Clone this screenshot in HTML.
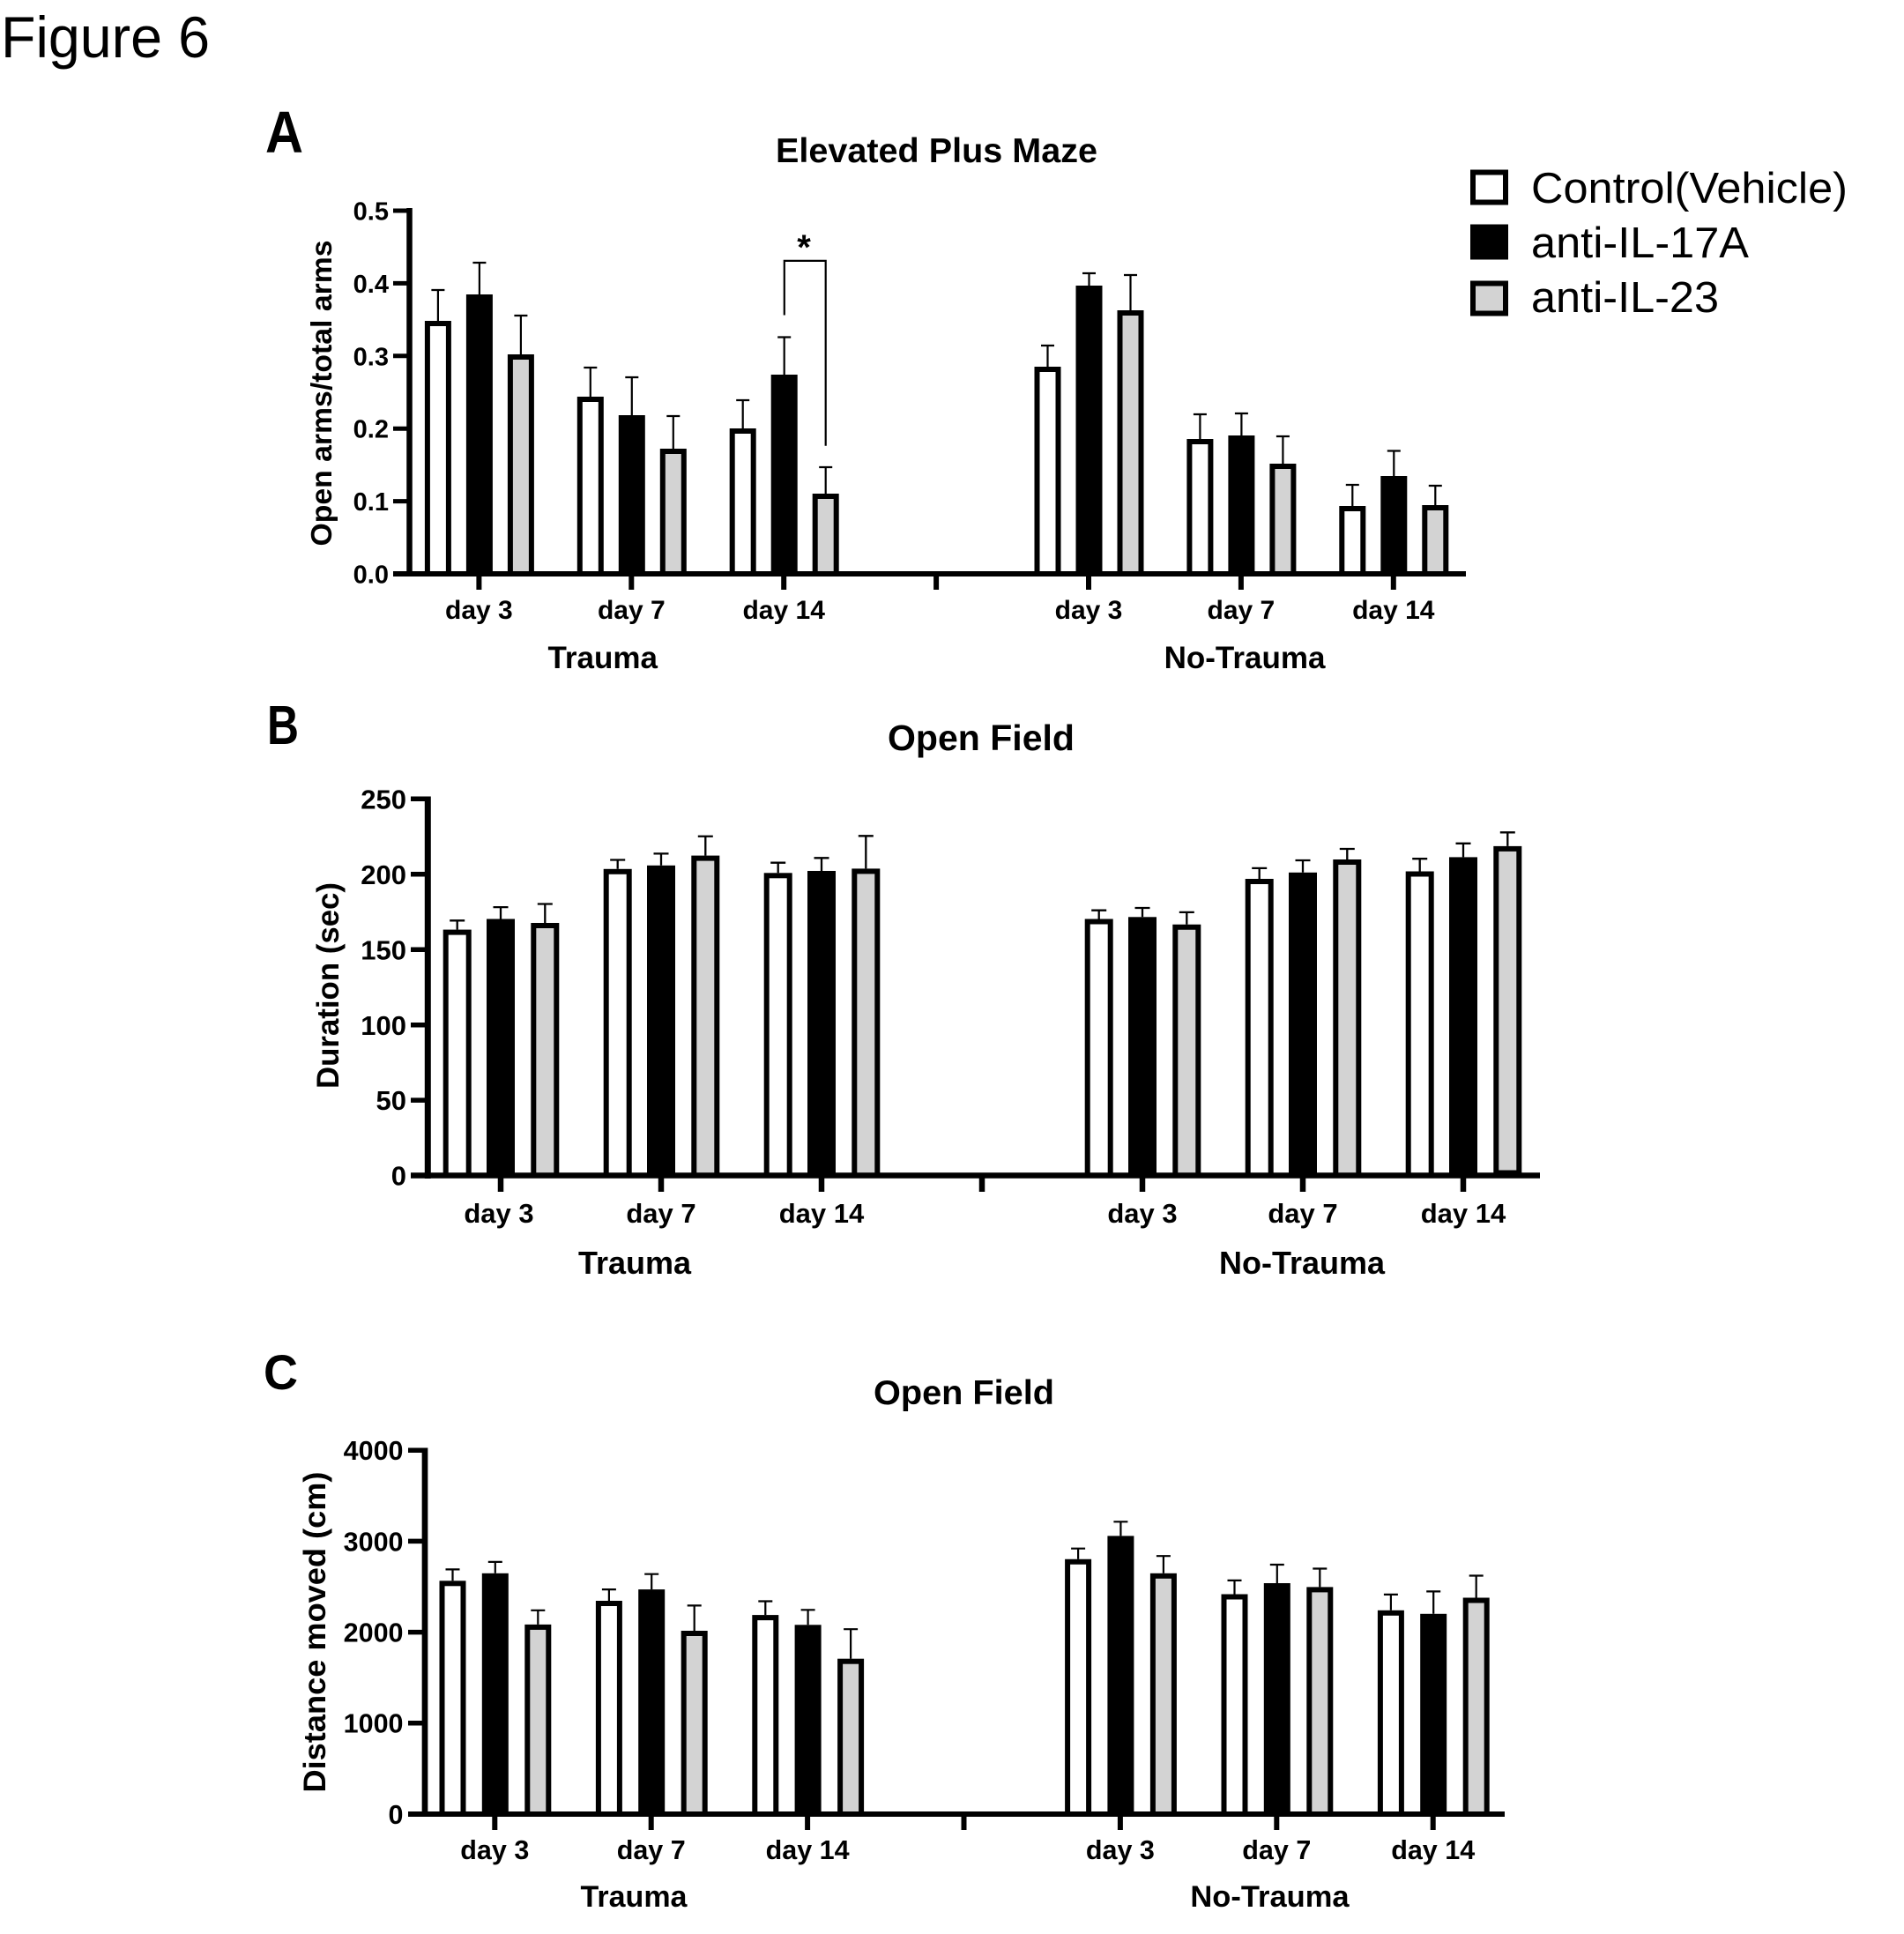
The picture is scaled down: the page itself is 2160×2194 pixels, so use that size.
<!DOCTYPE html>
<html>
<head>
<meta charset="utf-8">
<style>
html,body{margin:0;padding:0;background:#fff;}
svg{display:block;}
text{font-family:"Liberation Sans",Arial,sans-serif;fill:#000;}
.b{font-weight:bold;}
</style>
</head>
<body>
<svg width="2160" height="2194" viewBox="0 0 2160 2194" xmlns="http://www.w3.org/2000/svg">
<rect x="0" y="0" width="2160" height="2194" fill="#fff"/>

<!-- Figure title -->
<text x="1" y="65" font-size="66" textLength="237" lengthAdjust="spacingAndGlyphs">Figure 6</text>

<!-- ================= PANEL A ================= -->
<text class="b" x="301" y="173" font-size="67" textLength="43" lengthAdjust="spacingAndGlyphs">A</text>
<text class="b" x="880" y="184" font-size="39" textLength="365" lengthAdjust="spacingAndGlyphs">Elevated Plus Maze</text>

<!-- Legend -->
<rect x="1671" y="195.5" width="37" height="34" fill="#fff" stroke="#000" stroke-width="6"/>
<rect x="1671" y="257.5" width="37" height="34" fill="#000" stroke="#000" stroke-width="6"/>
<rect x="1671" y="321.5" width="37" height="34" fill="#d3d3d3" stroke="#000" stroke-width="6"/>
<text x="1737" y="230" font-size="49" textLength="359" lengthAdjust="spacingAndGlyphs">Control(Vehicle)</text>
<text x="1737" y="292" font-size="49" textLength="247" lengthAdjust="spacingAndGlyphs">anti-IL-17A</text>
<text x="1737" y="354" font-size="49" textLength="213" lengthAdjust="spacingAndGlyphs">anti-IL-23</text>

<!-- Y label -->
<text class="b" transform="translate(376,446) rotate(-90)" text-anchor="middle" font-size="33" textLength="347" lengthAdjust="spacingAndGlyphs">Open arms/total arms</text>

<!-- Y tick labels -->
<g font-size="29" text-anchor="end">
<text x="441" y="249.5" class="b">0.5</text>
<text x="441" y="331.9" class="b">0.4</text>
<text x="441" y="414.3" class="b">0.3</text>
<text x="441" y="496.7" class="b">0.2</text>
<text x="441" y="579.1" class="b">0.1</text>
<text x="441" y="661.5" class="b">0.0</text>
</g>

<!-- bars A -->
<g stroke="#000" stroke-width="6">
<rect x="484.9" y="367" width="24" height="284" fill="#fff"/>
<rect x="531.9" y="337" width="24" height="314" fill="#000"/>
<rect x="578.9" y="405" width="24" height="246" fill="#d3d3d3"/>
<rect x="657.8" y="453" width="24" height="198" fill="#fff"/>
<rect x="704.8" y="474" width="24" height="177" fill="#000"/>
<rect x="751.8" y="512" width="24" height="139" fill="#d3d3d3"/>
<rect x="830.7" y="489" width="24" height="162" fill="#fff"/>
<rect x="877.7" y="428" width="24" height="223" fill="#000"/>
<rect x="924.7" y="563" width="24" height="88" fill="#d3d3d3"/>
<rect x="1176.5" y="419" width="24" height="232" fill="#fff"/>
<rect x="1223.5" y="327" width="24" height="324" fill="#000"/>
<rect x="1270.5" y="355" width="24" height="296" fill="#d3d3d3"/>
<rect x="1349.4" y="501" width="24" height="150" fill="#fff"/>
<rect x="1396.4" y="497" width="24" height="154" fill="#000"/>
<rect x="1443.4" y="529" width="24" height="122" fill="#d3d3d3"/>
<rect x="1522.3" y="577" width="24" height="74" fill="#fff"/>
<rect x="1569.3" y="543" width="24" height="108" fill="#000"/>
<rect x="1616.3" y="576" width="24" height="75" fill="#d3d3d3"/>
</g>
<path fill="none" stroke="#000" stroke-width="2.2" d="
M496.9 364V329M489.4 329H504.4
M543.9 334V298M536.4 298H551.4
M590.9 402V358M583.4 358H598.4
M669.8 450V417M662.3 417H677.3
M716.8 471V428M709.3 428H724.3
M763.8 509V472M756.3 472H771.3
M842.7 486V454M835.2 454H850.2
M889.7 425V382.5M882.2 382.5H897.2
M936.7 560V530M929.2 530H944.2
M1188.5 416V392M1181 392H1196
M1235.5 324V310M1228 310H1243
M1282.5 352V312M1275 312H1290
M1361.4 498V470M1353.9 470H1368.9
M1408.4 494V469M1400.9 469H1415.9
M1455.4 526V495M1447.9 495H1462.9
M1534.3 574V550M1526.8 550H1541.8
M1581.3 540V511.5M1573.8 511.5H1588.8
M1628.3 573V551M1620.8 551H1635.8"/>

<!-- significance bracket -->
<path fill="none" stroke="#000" stroke-width="2.2" d="M889.8 357.5V295.9H936.7V505.7"/>
<text class="b" x="912" y="294" font-size="40" text-anchor="middle">*</text>

<!-- axes A -->
<g stroke="#000">
<line x1="464.5" y1="236" x2="464.5" y2="654" stroke-width="6.5"/>
<line x1="446" y1="651" x2="1663" y2="651" stroke-width="6"/>
<g stroke-width="5">
<line x1="446" y1="239" x2="464" y2="239"/>
<line x1="446" y1="321.4" x2="464" y2="321.4"/>
<line x1="446" y1="403.8" x2="464" y2="403.8"/>
<line x1="446" y1="486.2" x2="464" y2="486.2"/>
<line x1="446" y1="568.6" x2="464" y2="568.6"/>
</g>
<g stroke-width="6">
<line x1="543.4" y1="651" x2="543.4" y2="669"/>
<line x1="716.3" y1="651" x2="716.3" y2="669"/>
<line x1="889.2" y1="651" x2="889.2" y2="669"/>
<line x1="1062.1" y1="651" x2="1062.1" y2="669"/>
<line x1="1235" y1="651" x2="1235" y2="669"/>
<line x1="1407.9" y1="651" x2="1407.9" y2="669"/>
<line x1="1580.8" y1="651" x2="1580.8" y2="669"/>
</g>
</g>
<g font-size="30" text-anchor="middle">
<text class="b" x="543.4" y="702">day 3</text>
<text class="b" x="716.3" y="702">day 7</text>
<text class="b" x="889.2" y="702">day 14</text>
<text class="b" x="1235" y="702">day 3</text>
<text class="b" x="1407.9" y="702">day 7</text>
<text class="b" x="1580.8" y="702">day 14</text>
</g>
<text class="b" x="683.7" y="758" font-size="35" text-anchor="middle">Trauma</text>
<text class="b" x="1412" y="758" font-size="35" text-anchor="middle">No-Trauma</text>

<!-- ================= PANEL B ================= -->
<text class="b" x="303" y="844" font-size="62" textLength="36" lengthAdjust="spacingAndGlyphs">B</text>
<text class="b" x="1007" y="851" font-size="41" textLength="212" lengthAdjust="spacingAndGlyphs">Open Field</text>
<text class="b" transform="translate(384,1118) rotate(-90)" text-anchor="middle" font-size="35" textLength="234" lengthAdjust="spacingAndGlyphs">Duration (sec)</text>

<g font-size="31" text-anchor="end">
<text class="b" x="461" y="917.4">250</text>
<text class="b" x="461" y="1002.9">200</text>
<text class="b" x="461" y="1088.3">150</text>
<text class="b" x="461" y="1173.8">100</text>
<text class="b" x="461" y="1259.2">50</text>
<text class="b" x="461" y="1344.7">0</text>
</g>

<g stroke="#000" stroke-width="6">
<rect x="505.7" y="1057.6" width="26" height="275.9" fill="#fff"/>
<rect x="555" y="1045.5" width="26" height="288" fill="#000"/>
<rect x="605.3" y="1050" width="26" height="283.5" fill="#d3d3d3"/>
<rect x="687.7" y="988.8" width="26" height="344.7" fill="#fff"/>
<rect x="737" y="984.8" width="26" height="348.7" fill="#000"/>
<rect x="787.3" y="973.6" width="26" height="359.9" fill="#d3d3d3"/>
<rect x="869.7" y="993.3" width="26" height="340.2" fill="#fff"/>
<rect x="919" y="991" width="26" height="342.5" fill="#000"/>
<rect x="969.3" y="988.4" width="26" height="345.1" fill="#d3d3d3"/>
<rect x="1233.7" y="1045.5" width="26" height="288" fill="#fff"/>
<rect x="1283" y="1043.3" width="26" height="290.2" fill="#000"/>
<rect x="1333.3" y="1051.75" width="26" height="281.75" fill="#d3d3d3"/>
<rect x="1415.7" y="1000" width="26" height="333.5" fill="#fff"/>
<rect x="1465" y="992.8" width="26" height="340.7" fill="#000"/>
<rect x="1515.3" y="978" width="26" height="355.5" fill="#d3d3d3"/>
<rect x="1597.7" y="991.5" width="26" height="342" fill="#fff"/>
<rect x="1647" y="975.4" width="26" height="355.1" fill="#000"/>
<rect x="1697.3" y="962.9" width="26" height="367.6" fill="#d3d3d3"/>
</g>
<path fill="none" stroke="#000" stroke-width="2.3" d="
M518.7 1054.6V1044.3M510.2 1044.3H527.2
M568 1042.5V1029.1M559.5 1029.1H576.5
M618.3 1047V1025.5M609.8 1025.5H626.8
M700.7 985.8V975.5M692.2 975.5H709.2
M750 981.8V968.4M741.5 968.4H758.5
M800.3 970.6V948.75M791.8 948.75H808.8
M882.7 990.3V978.7M874.2 978.7H891.2
M932 988V973.3M923.5 973.3H940.5
M982.3 985.4V948.3M973.8 948.3H990.8
M1246.7 1042.5V1032.7M1238.2 1032.7H1255.2
M1296 1040.3V1030M1287.5 1030H1304.5
M1346.3 1048.75V1034.9M1337.8 1034.9H1354.8
M1428.7 997V984.9M1420.2 984.9H1437.2
M1478 989.8V976M1469.5 976H1486.5
M1528.3 975V963M1519.8 963H1536.8
M1610.7 988.5V974.2M1602.2 974.2H1619.2
M1660 972.4V956.8M1651.5 956.8H1668.5
M1710.3 959.9V944.3M1701.8 944.3H1718.8"/>

<g stroke="#000">
<line x1="485.3" y1="903.5" x2="485.3" y2="1337" stroke-width="7"/>
<line x1="466" y1="1333.5" x2="1747" y2="1333.5" stroke-width="6.5"/>
<g stroke-width="5.5">
<line x1="466" y1="906.3" x2="485" y2="906.3"/>
<line x1="466" y1="991.8" x2="485" y2="991.8"/>
<line x1="466" y1="1077.2" x2="485" y2="1077.2"/>
<line x1="466" y1="1162.7" x2="485" y2="1162.7"/>
<line x1="466" y1="1248.1" x2="485" y2="1248.1"/>
</g>
<g stroke-width="6.5">
<line x1="568" y1="1333" x2="568" y2="1352"/>
<line x1="750" y1="1333" x2="750" y2="1352"/>
<line x1="932" y1="1333" x2="932" y2="1352"/>
<line x1="1114" y1="1333" x2="1114" y2="1352"/>
<line x1="1296" y1="1333" x2="1296" y2="1352"/>
<line x1="1478" y1="1333" x2="1478" y2="1352"/>
<line x1="1660" y1="1333" x2="1660" y2="1352"/>
</g>
</g>
<g font-size="31" text-anchor="middle">
<text class="b" x="566" y="1387">day 3</text>
<text class="b" x="750" y="1387">day 7</text>
<text class="b" x="932" y="1387">day 14</text>
<text class="b" x="1296" y="1387">day 3</text>
<text class="b" x="1478" y="1387">day 7</text>
<text class="b" x="1660" y="1387">day 14</text>
</g>
<text class="b" x="720" y="1445" font-size="36" text-anchor="middle">Trauma</text>
<text class="b" x="1477" y="1445" font-size="36" text-anchor="middle">No-Trauma</text>

<!-- ================= PANEL C ================= -->
<text class="b" x="299" y="1576" font-size="56" textLength="39" lengthAdjust="spacingAndGlyphs">C</text>
<text class="b" x="991" y="1593" font-size="39" textLength="205" lengthAdjust="spacingAndGlyphs">Open Field</text>
<text class="b" transform="translate(369,1851.5) rotate(-90)" text-anchor="middle" font-size="35" textLength="364" lengthAdjust="spacingAndGlyphs">Distance moved (cm)</text>

<g font-size="30.5" text-anchor="end">
<text class="b" x="457.5" y="1656.1">4000</text>
<text class="b" x="457.5" y="1759.3">3000</text>
<text class="b" x="457.5" y="1862.5">2000</text>
<text class="b" x="457.5" y="1965.7">1000</text>
<text class="b" x="457.5" y="2068.9">0</text>
</g>

<g stroke="#000" stroke-width="6">
<rect x="501.5" y="1796.3" width="24" height="261.7" fill="#fff"/>
<rect x="549.8" y="1787.8" width="24" height="270.2" fill="#000"/>
<rect x="598.3" y="1845.9" width="24" height="212.1" fill="#d3d3d3"/>
<rect x="678.9" y="1819" width="24" height="239" fill="#fff"/>
<rect x="727.2" y="1806.1" width="24" height="251.9" fill="#000"/>
<rect x="775.7" y="1853" width="24" height="205" fill="#d3d3d3"/>
<rect x="856.3" y="1835.1" width="24" height="222.9" fill="#fff"/>
<rect x="904.6" y="1846.3" width="24" height="211.7" fill="#000"/>
<rect x="953.1" y="1884.7" width="24" height="173.3" fill="#d3d3d3"/>
<rect x="1211.1" y="1771.75" width="24" height="286.25" fill="#fff"/>
<rect x="1259.4" y="1745.4" width="24" height="312.6" fill="#000"/>
<rect x="1307.9" y="1787.8" width="24" height="270.2" fill="#d3d3d3"/>
<rect x="1388.5" y="1811.5" width="24" height="246.5" fill="#fff"/>
<rect x="1436.8" y="1799" width="24" height="259" fill="#000"/>
<rect x="1485.3" y="1803.4" width="24" height="254.6" fill="#d3d3d3"/>
<rect x="1565.9" y="1829.8" width="24" height="228.2" fill="#fff"/>
<rect x="1614.2" y="1833.8" width="24" height="224.2" fill="#000"/>
<rect x="1662.7" y="1815.5" width="24" height="242.5" fill="#d3d3d3"/>
</g>
<path fill="none" stroke="#000" stroke-width="2.2" d="
M513.5 1793.3V1780.4M505.5 1780.4H521.5
M561.8 1784.8V1771.9M553.8 1771.9H569.8
M610.3 1842.9V1826.8M602.3 1826.8H618.3
M690.9 1816V1803.1M682.9 1803.1H698.9
M739.2 1803.1V1785.7M731.2 1785.7H747.2
M787.7 1850V1821.4M779.7 1821.4H795.7
M868.3 1832.1V1816.5M860.3 1816.5H876.3
M916.6 1843.3V1826.3M908.6 1826.3H924.6
M965.1 1881.7V1848.2M957.1 1848.2H973.1
M1223.1 1768.75V1756.7M1215.1 1756.7H1231.1
M1271.4 1742.4V1726.3M1263.4 1726.3H1279.4
M1319.9 1784.8V1765.2M1311.9 1765.2H1327.9
M1400.5 1808.5V1792.9M1392.5 1792.9H1408.5
M1448.8 1796V1775M1440.8 1775H1456.8
M1497.3 1800.4V1779.5M1489.3 1779.5H1505.3
M1577.9 1826.8V1808.9M1569.9 1808.9H1585.9
M1626.2 1830.8V1805.4M1618.2 1805.4H1634.2
M1674.7 1812.5V1787.5M1666.7 1787.5H1682.7"/>

<g stroke="#000">
<line x1="482" y1="1642.5" x2="482" y2="2061" stroke-width="6.7"/>
<line x1="463" y1="2058" x2="1707" y2="2058" stroke-width="6"/>
<g stroke-width="5.5">
<line x1="463" y1="1645.2" x2="482" y2="1645.2"/>
<line x1="463" y1="1748.4" x2="482" y2="1748.4"/>
<line x1="463" y1="1851.6" x2="482" y2="1851.6"/>
<line x1="463" y1="1954.8" x2="482" y2="1954.8"/>
</g>
<g stroke-width="6">
<line x1="561.3" y1="2058" x2="561.3" y2="2076"/>
<line x1="738.7" y1="2058" x2="738.7" y2="2076"/>
<line x1="916.1" y1="2058" x2="916.1" y2="2076"/>
<line x1="1093.5" y1="2058" x2="1093.5" y2="2076"/>
<line x1="1270.9" y1="2058" x2="1270.9" y2="2076"/>
<line x1="1448.3" y1="2058" x2="1448.3" y2="2076"/>
<line x1="1625.7" y1="2058" x2="1625.7" y2="2076"/>
</g>
</g>
<g font-size="30.5" text-anchor="middle">
<text class="b" x="561.3" y="2109">day 3</text>
<text class="b" x="738.7" y="2109">day 7</text>
<text class="b" x="916.1" y="2109">day 14</text>
<text class="b" x="1270.9" y="2109">day 3</text>
<text class="b" x="1448.3" y="2109">day 7</text>
<text class="b" x="1625.7" y="2109">day 14</text>
</g>
<text class="b" x="719" y="2163" font-size="34" text-anchor="middle">Trauma</text>
<text class="b" x="1440.5" y="2163" font-size="34.5" text-anchor="middle">No-Trauma</text>
</svg>
</body>
</html>
